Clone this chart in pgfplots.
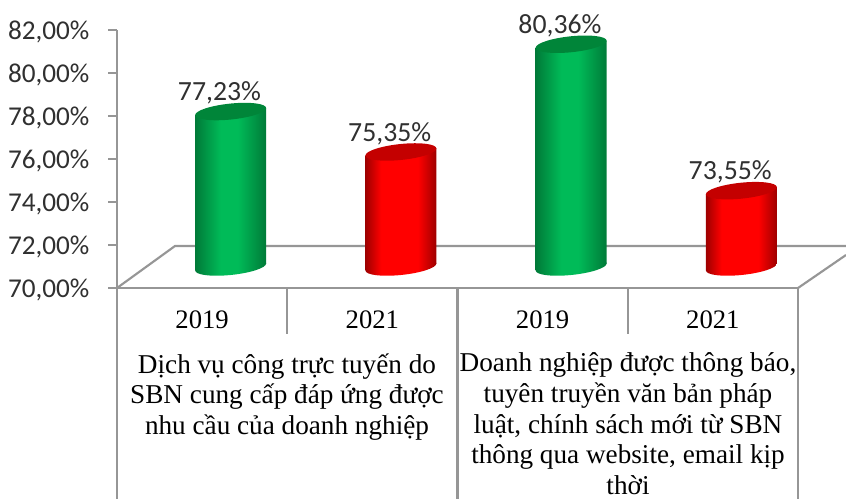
\documentclass[border=0pt]{standalone}
\usepackage{pgfplots}
\pgfplotsset{compat=1.18}
\usepackage{fontspec}
\setmainfont{Carlito}
\newfontfamily\tnr{Liberation Serif}
\definecolor{axgray}{HTML}{969696}
\definecolor{lab}{HTML}{303030}
\definecolor{g1}{HTML}{007A38}
\definecolor{g2}{HTML}{00BB58}
\definecolor{gcap}{HTML}{008539}
\definecolor{r1}{HTML}{9E0000}
\definecolor{r2}{HTML}{FF0000}
\definecolor{rcap}{HTML}{C40000}
\pgfdeclarehorizontalshading{cylg}{100bp}{color(0bp)=(g1); color(25bp)=(g1); color(43bp)=(g2); color(55bp)=(g2); color(75bp)=(g1); color(100bp)=(g1)}
\pgfdeclarehorizontalshading{cylr}{100bp}{color(0bp)=(r1); color(25bp)=(r1); color(36bp)=(r2); color(62bp)=(r2); color(75bp)=(r1); color(100bp)=(r1)}
\newcommand\capellipse{\pgfpathellipse{\pgfpointorigin}{\pgfqpoint{26.6pt}{0pt}}{\pgfqpoint{0pt}{6pt}}}
\pgfdeclareplotmark{capg}{\capellipse\pgfsetfillcolor{gcap}\pgfusepathqfill}
\pgfdeclareplotmark{capr}{\capellipse\pgfsetfillcolor{rcap}\pgfusepathqfill}
\pgfdeclareplotmark{baseg}{\capellipse\pgfshadepath{cylg}{0}\pgfusepath{discard}}
\pgfdeclareplotmark{baser}{\capellipse\pgfshadepath{cylr}{0}\pgfusepath{discard}}
% x is the bar centre in the axis, in 0.75pt steps; the slant gives the tilted look
\tikzset{cyl/.style={xshift=21.4pt,yshift={(21-0.0986*#1)*0.75pt},yslant=0.0986}}
\pgfkeys{/pgf/number format/.cd,fixed,fixed zerofill,precision=2,use comma,assume math mode=true}
\begin{document}
\begin{tikzpicture}
\path[use as bounding box] (-87.75pt,-158.25pt) rectangle (546.75pt,216pt);
\begin{scope}[x=0.75pt,y=-0.75pt,draw=axgray,line width=1.6pt]
\draw (0,0) -- (58,-42) -- (729,-42);
\draw (681,0) -- (729,-33);
\draw (0,-1) -- (0,211);
\draw (170.25,0) -- (170.25,46);
\draw (340.5,0) -- (340.5,211);
\draw (510.75,0) -- (510.75,46);
\draw (681,0) -- (681,211);
\node[align=center,inner sep=0pt,font=\tnr\fontsize{20.4}{23}\selectfont] at (170,109) {Dịch vụ công trực tuyến do\\SBN cung cấp đáp ứng được\\nhu cầu của doanh nghiệp};
\node[align=center,inner sep=0pt,font=\tnr\fontsize{20.4}{23}\selectfont] at (511,136) {Doanh nghiệp được thông báo,\\tuyên truyền văn bản pháp\\luật, chính sách mới từ SBN\\thông qua website, email kịp\\thời};
\end{scope}
\begin{axis}[
  scale only axis,width=510.75pt,height=193.5pt,
  xmin=-0.5,xmax=3.5,ymin=70,ymax=82,clip=false,
  axis x line*=bottom,axis y line*=left,
  axis line style={-,draw=axgray,line width=1.6pt},
  xtick={0,1,2,3},xticklabels={2019,2021,2019,2021},
  xtick style={draw=none},
  xticklabel style={font=\tnr\fontsize{20}{23}\selectfont,anchor=center,yshift=-17.25pt,inner sep=0pt},
  ytick={70,72,...,82},
  ytick style={draw=axgray,line width=1.2pt},
  tick align=outside,major tick length=6.5pt,
  yticklabel={\pgfmathprintnumber{\tick}\%},
  yticklabel style={font=\fontsize{20.4}{24}\selectfont,text=lab,anchor=east,inner sep=0pt,xshift=-14pt,yshift=-1.5pt},
]
% 2019, first group
\addplot[cyl=85.1,only marks,mark=baseg] coordinates {(0,70)};
\addplot[cyl=85.1,ybar,bar width=53.25pt,bar shift=0pt,shade,shading=cylg,draw=none] coordinates {(0,77.23)};
\addplot[cyl=85.1,only marks,mark=capg] coordinates {(0,77.23)};
% 2021, first group
\addplot[cyl=255.4,only marks,mark=baser] coordinates {(1,70)};
\addplot[cyl=255.4,ybar,bar width=53.25pt,bar shift=0pt,shade,shading=cylr,draw=none] coordinates {(1,75.35)};
\addplot[cyl=255.4,only marks,mark=capr] coordinates {(1,75.35)};
% 2019, second group
\addplot[cyl=425.6,only marks,mark=baseg] coordinates {(2,70)};
\addplot[cyl=425.6,ybar,bar width=53.25pt,bar shift=0pt,shade,shading=cylg,draw=none] coordinates {(2,80.36)};
\addplot[cyl=425.6,only marks,mark=capg] coordinates {(2,80.36)};
% 2021, second group
\addplot[cyl=595.9,only marks,mark=baser] coordinates {(3,70)};
\addplot[cyl=595.9,ybar,bar width=53.25pt,bar shift=0pt,shade,shading=cylr,draw=none] coordinates {(3,73.55)};
\addplot[cyl=595.9,only marks,mark=capr] coordinates {(3,73.55)};
% value labels
\addplot[draw=none,mark=none,point meta=y,
  nodes near coords={\pgfmathprintnumber{\pgfplotspointmeta}\%},
  nodes near coords style={font=\fontsize{20.8}{24}\selectfont,text=lab,anchor=center,inner sep=0pt,xshift=13pt,yshift=29.7pt}]
  coordinates {(0,77.23) (1,75.35) (2,80.36) (3,73.55)};
\end{axis}
\end{tikzpicture}
\end{document}
